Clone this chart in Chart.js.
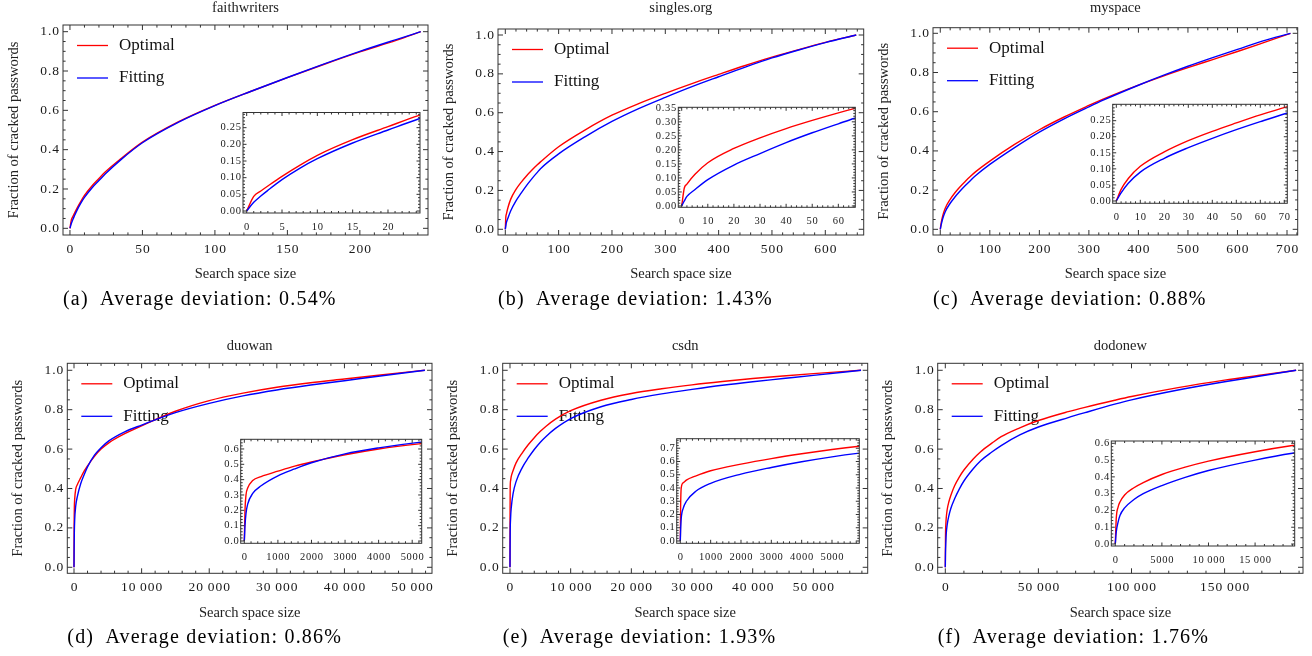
<!DOCTYPE html>
<html>
<head>
<meta charset="utf-8">
<title>Cracked password fraction vs search space size</title>
<script src="https://cdn.jsdelivr.net/npm/chart.js@4.4.1/dist/chart.umd.min.js"></script>
<style>
  html, body { margin: 0; padding: 0; background: #fff; }
  #fig { position: relative; width: 1312px; height: 656px; overflow: hidden; background: #fff; }
  #fig canvas { position: absolute; left: 0; top: 0; }
</style>
</head>
<body>
<div id="fig"></div>
<script>
// ---- data: search space size (x) and fraction of cracked passwords ----

// faithwriters
const aX       = [0, 1, 2, 3, 5, 7.5, 10, 15, 20, 24.3, 35, 50, 75, 100, 125, 150, 175, 200, 225, 242];
const aOptimal = [0, 0.044, 0.06, 0.075, 0.104, 0.137, 0.167, 0.214, 0.253, 0.286, 0.353, 0.438, 0.542, 0.625, 0.697, 0.766, 0.833, 0.897, 0.956, 1.0];
const aFitting = [0, 0.026, 0.045, 0.062, 0.094, 0.128, 0.157, 0.204, 0.243, 0.276, 0.348, 0.435, 0.54, 0.624, 0.697, 0.767, 0.835, 0.9, 0.96, 1.0];

// singles.org
const bX       = [0, 1, 2, 5, 10, 20, 30, 40, 50, 60, 66, 100, 150, 200, 250, 300, 350, 400, 450, 500, 550, 600, 658];
const bOptimal = [0, 0.064, 0.078, 0.112, 0.154, 0.205, 0.243, 0.276, 0.305, 0.332, 0.347, 0.425, 0.512, 0.587, 0.647, 0.7, 0.75, 0.797, 0.843, 0.886, 0.925, 0.962, 1.0];
const bFitting = [0, 0.018, 0.034, 0.058, 0.094, 0.146, 0.187, 0.226, 0.261, 0.293, 0.312, 0.388, 0.477, 0.555, 0.621, 0.679, 0.734, 0.785, 0.835, 0.882, 0.923, 0.961, 1.0];

// myspace
const cX       = [0, 2, 5, 10, 20, 30, 40, 50, 60, 71, 100, 150, 200, 250, 300, 330, 400, 450, 500, 550, 600, 650, 707];
const cOptimal = [0, 0.036, 0.07, 0.108, 0.153, 0.188, 0.217, 0.243, 0.268, 0.293, 0.348, 0.433, 0.508, 0.573, 0.632, 0.666, 0.736, 0.782, 0.825, 0.866, 0.907, 0.95, 1.0];
const cFitting = [0, 0.025, 0.055, 0.09, 0.133, 0.166, 0.195, 0.222, 0.247, 0.273, 0.331, 0.417, 0.496, 0.564, 0.625, 0.66, 0.735, 0.785, 0.832, 0.876, 0.918, 0.96, 1.0];

// duowan
const dX       = [0, 20, 50, 100, 250, 500, 1000, 1500, 2000, 3000, 4000, 5200, 7500, 10000, 15000, 20000, 25000, 30000, 35000, 40000, 45000, 51900];
const dOptimal = [0, 0.2, 0.3, 0.345, 0.395, 0.42, 0.455, 0.488, 0.515, 0.562, 0.6, 0.633, 0.678, 0.718, 0.792, 0.846, 0.884, 0.914, 0.937, 0.956, 0.975, 1.0];
const dFitting = [0, 0.1, 0.18, 0.24, 0.31, 0.36, 0.425, 0.47, 0.51, 0.568, 0.607, 0.643, 0.688, 0.722, 0.785, 0.832, 0.87, 0.9, 0.925, 0.947, 0.97, 1.0];

// csdn
const eX       = [0, 10, 30, 100, 200, 500, 1000, 2000, 3000, 4000, 5000, 5900, 7500, 10000, 15000, 20000, 25000, 30000, 35000, 40000, 45000, 50000, 57860];
const eOptimal = [0, 0.25, 0.4, 0.44, 0.46, 0.49, 0.53, 0.58, 0.622, 0.658, 0.69, 0.715, 0.752, 0.795, 0.848, 0.882, 0.906, 0.926, 0.943, 0.958, 0.971, 0.983, 1.0];
const eFitting = [0, 0.08, 0.17, 0.25, 0.3, 0.373, 0.435, 0.505, 0.555, 0.598, 0.635, 0.663, 0.705, 0.755, 0.815, 0.852, 0.88, 0.903, 0.924, 0.942, 0.958, 0.974, 1.0];

// dodonew
const fX       = [0, 100, 300, 500, 1000, 2000, 3000, 5000, 7500, 10000, 15000, 19000, 25000, 30000, 40000, 50000, 66000, 75000, 91000, 100000, 125000, 150000, 170000, 188400];
const fOptimal = [0, 0.15, 0.22, 0.25, 0.292, 0.335, 0.366, 0.414, 0.458, 0.494, 0.55, 0.587, 0.63, 0.663, 0.708, 0.745, 0.79, 0.812, 0.848, 0.867, 0.912, 0.95, 0.976, 1.0];
const fFitting = [0, 0.07, 0.13, 0.17, 0.215, 0.265, 0.3, 0.348, 0.397, 0.438, 0.5, 0.541, 0.585, 0.618, 0.672, 0.712, 0.76, 0.785, 0.828, 0.85, 0.9, 0.942, 0.972, 1.0];

// tick labels
const mainYTicks   = [0, 0.2, 0.4, 0.6, 0.8, 1.0];
const aMainXTicks  = [0, 50, 100, 150, 200];
const aInsetXTicks = [0, 5, 10, 15, 20];
const aInsetYTicks = [0, 0.05, 0.1, 0.15, 0.2, 0.25];
const bMainXTicks  = [0, 100, 200, 300, 400, 500, 600];
const bInsetXTicks = [0, 10, 20, 30, 40, 50, 60];
const bInsetYTicks = [0, 0.05, 0.1, 0.15, 0.2, 0.25, 0.3, 0.35];
const cMainXTicks  = [0, 100, 200, 300, 400, 500, 600, 700];
const cInsetXTicks = [0, 10, 20, 30, 40, 50, 60, 70];
const cInsetYTicks = [0, 0.05, 0.1, 0.15, 0.2, 0.25];
const dMainXTicks  = [0, 10000, 20000, 30000, 40000, 50000];
const dInsetXTicks = [0, 1000, 2000, 3000, 4000, 5000];
const dInsetYTicks = [0, 0.1, 0.2, 0.3, 0.4, 0.5, 0.6];
const eMainXTicks  = [0, 10000, 20000, 30000, 40000, 50000];
const eInsetXTicks = [0, 1000, 2000, 3000, 4000, 5000];
const eInsetYTicks = [0, 0.1, 0.2, 0.3, 0.4, 0.5, 0.6, 0.7];
const fMainXTicks  = [0, 50000, 100000, 150000];
const fInsetXTicks = [0, 5000, 10000, 15000];
const fInsetYTicks = [0, 0.1, 0.2, 0.3, 0.4, 0.5, 0.6];

const seriesNames  = ['Optimal', 'Fitting'];
const panelNames   = ['faithwriters', 'singles.org', 'myspace', 'duowan', 'csdn', 'dodonew'];
const panelLetters = ['a', 'b', 'c', 'd', 'e', 'f'];
const deviations   = ['0.54%', '1.43%', '0.88%', '0.86%', '1.93%', '1.76%'];

// ---- layout: frame boxes [left, top, right, bottom] in page px, axis ranges ----
const W = 1312, H = 656;
const SERIF = '"Liberation Serif", "Times New Roman", serif';

const panels = [
  { x: aX, opt: aOptimal, fit: aFitting, titleBase: 12.7,
    main:  { box: [63, 25, 428, 235], xr: [-4.8, 247], yr: [-0.034, 1.034], xt: aMainXTicks, xMinor: 10 },
    inset: { box: [243, 112.5, 420, 213], xr: [-0.52, 24.53], yr: [-0.006, 0.2955], xt: aInsetXTicks, yt: aInsetYTicks, xMinor: 1, yMinor: 0.01, yDec: 2 } },
  { x: bX, opt: bOptimal, fit: bFitting, titleBase: 12.7,
    main:  { box: [498, 29, 863.7, 235], xr: [-13.7, 672], yr: [-0.0294, 1.0309], xt: bMainXTicks, xMinor: 20 },
    inset: { box: [678.3, 107.3, 855.3, 207.3], xr: [-1.3, 66.5], yr: [-0.0047, 0.3518], xt: bInsetXTicks, yt: bInsetYTicks, xMinor: 2, yMinor: 0.01, yDec: 2 } },
  { x: cX, opt: cOptimal, fit: cFitting, titleBase: 12.7,
    main:  { box: [933, 27.7, 1297.7, 235], xr: [-14.7, 721.6], yr: [-0.029, 1.0286], xt: cMainXTicks, xMinor: 20 },
    inset: { box: [1112.7, 104.3, 1287.3, 203.3], xr: [-1.5, 71.25], yr: [-0.0072, 0.301], xt: cInsetXTicks, yt: cInsetYTicks, xMinor: 2, yMinor: 0.01, yDec: 2 } },
  { x: dX, opt: dOptimal, fit: dFitting, titleBase: 350.7,
    main:  { box: [67.3, 363.3, 432, 573.3], xr: [-991, 52950], yr: [-0.0305, 1.0355], xt: dMainXTicks, xMinor: 2000 },
    inset: { box: [240.7, 439.3, 421.7, 543.3], xr: [-108, 5283], yr: [-0.015, 0.663], xt: dInsetXTicks, yt: dInsetYTicks, xMinor: 200, yMinor: 0.02, yDec: 1 } },
  { x: eX, opt: eOptimal, fit: eFitting, titleBase: 350.7,
    main:  { box: [502.7, 363.3, 867.7, 573.3], xr: [-1203, 58956], yr: [-0.0305, 1.0355], xt: eMainXTicks, xMinor: 2000 },
    inset: { box: [676.7, 438.7, 859.3, 543.3], xr: [-119, 5900], yr: [-0.0174, 0.772], xt: eInsetXTicks, yt: eInsetYTicks, xMinor: 200, yMinor: 0.02, yDec: 1 } },
  { x: fX, opt: fOptimal, fit: fFitting, titleBase: 350.7,
    main:  { box: [937.7, 363.3, 1303, 573.3], xr: [-4082, 192100], yr: [-0.0305, 1.0355], xt: fMainXTicks, xMinor: 10000 },
    inset: { box: [1111.3, 441, 1294.7, 546], xr: [-428.6, 19250], yr: [-0.0119, 0.6137], xt: fInsetXTicks, yt: fInsetYTicks, xMinor: 1000, yMinor: 0.02, yDec: 1 } }
];

// 12345 -> "12 345" (thin space), four digits stay together
function fmtNum(v, dec) {
  if (dec) return v.toFixed(dec);
  const s = String(Math.round(v));
  return s.length > 4 ? s.replace(/\B(?=(\d{3})+(?!\d))/g, '\u2009') : s;
}

function seriesData(xs, ys) {
  return xs.map((x, i) => ({ x: x, y: ys[i] }));
}

function buildDatasets(p) {
  const common = { borderWidth: 1.4, pointRadius: 0, fill: false, cubicInterpolationMode: 'monotone' };
  return [
    Object.assign({ label: seriesNames[0], data: seriesData(p.x, p.opt), borderColor: '#ff0000', order: 1 }, common),
    Object.assign({ label: seriesNames[1], data: seriesData(p.x, p.fit), borderColor: '#0000ff', order: 0 }, common)
  ];
}

function minorValues(scale, step) {
  const out = [];
  for (let k = Math.ceil(scale.min / step - 1e-9); k * step <= scale.max + 1e-9; k++) out.push(k * step);
  return out;
}

// frame with inward ticks on all four sides, tick labels, in-plot legend, caption
function makeFrame(cfg) {
  return {
    id: 'frame',
    beforeDatasetsDraw(chart) {
      const { ctx, chartArea: a } = chart;
      ctx.save();
      if (cfg.fill) {
        ctx.fillStyle = '#fff';
        ctx.fillRect(a.left, a.top, a.right - a.left, a.bottom - a.top);
      }
      if (cfg.legend) {
        ctx.font = '17px ' + SERIF;
        ctx.textAlign = 'left';
        ctx.textBaseline = 'middle';
        ctx.fillStyle = '#111';
        chart.data.datasets.forEach((ds, i) => {
          const y = a.top + 20.5 + i * 32.5;
          ctx.strokeStyle = ds.borderColor;
          ctx.lineWidth = 1.3;
          ctx.beginPath();
          ctx.moveTo(a.left + 14, y);
          ctx.lineTo(a.left + 45, y);
          ctx.stroke();
          ctx.fillText(ds.label, a.left + 56, y);
        });
      }
      ctx.restore();
    },
    afterDatasetsDraw(chart) {
      const { ctx, chartArea: a } = chart;
      const xs = chart.scales.x, ys = chart.scales.y;
      ctx.save();
      ctx.strokeStyle = '#333';
      ctx.lineWidth = 1;
      ctx.strokeRect(a.left, a.top, a.right - a.left, a.bottom - a.top);

      ctx.beginPath();
      const xMaj = xs.ticks.map(t => t.value);
      minorValues(xs, cfg.xMinor).forEach(v => {
        const len = xMaj.some(m => Math.abs(m - v) < cfg.xMinor * 1e-3) ? cfg.majorLen : cfg.minorLen;
        const px = xs.getPixelForValue(v);
        ctx.moveTo(px, a.bottom); ctx.lineTo(px, a.bottom - len);
        ctx.moveTo(px, a.top);    ctx.lineTo(px, a.top + len);
      });
      const yMaj = ys.ticks.map(t => t.value);
      minorValues(ys, cfg.yMinor).forEach(v => {
        const len = yMaj.some(m => Math.abs(m - v) < cfg.yMinor * 1e-3) ? cfg.majorLen : cfg.minorLen;
        const py = ys.getPixelForValue(v);
        ctx.moveTo(a.left, py);  ctx.lineTo(a.left + len, py);
        ctx.moveTo(a.right, py); ctx.lineTo(a.right - len, py);
      });
      ctx.stroke();

      ctx.fillStyle = '#1a1a1a';
      ctx.font = cfg.labelSize + 'px ' + SERIF;
      ctx.letterSpacing = cfg.labelSpacing + 'px';
      ctx.textAlign = 'center';
      ctx.textBaseline = 'alphabetic';
      xs.ticks.forEach(t => {
        ctx.fillText(fmtNum(t.value, 0), xs.getPixelForValue(t.value) + cfg.labelSpacing / 2, a.bottom + cfg.xLabelDrop);
      });
      ctx.textAlign = 'right';
      ctx.textBaseline = 'middle';
      ys.ticks.forEach(t => {
        ctx.fillText(fmtNum(t.value, cfg.yDec), a.left - cfg.yLabelGap + cfg.labelSpacing, ys.getPixelForValue(t.value));
      });
      ctx.restore();
    },
    afterDraw(chart) {
      if (!cfg.caption) return;
      const { ctx, chartArea: a } = chart;
      ctx.save();
      ctx.font = '20px ' + SERIF;
      ctx.letterSpacing = '1.2px';
      ctx.fillStyle = '#000';
      ctx.textAlign = 'left';
      ctx.textBaseline = 'alphabetic';
      ctx.fillText(cfg.caption, a.left, a.bottom + 70);
      ctx.restore();
    }
  };
}

function linearAxis(range, ticks, extra) {
  return Object.assign({
    type: 'linear',
    min: range[0],
    max: range[1],
    afterBuildTicks: s => { s.ticks = ticks.map(v => ({ value: v })); },
    ticks: { display: false },
    grid: { display: false },
    border: { display: false }
  }, extra);
}

function addCanvas() {
  const c = document.createElement('canvas');
  c.width = W; c.height = H;
  c.style.width = W + 'px'; c.style.height = H + 'px';
  document.getElementById('fig').appendChild(c);
  return c;
}

const axisFont = { family: SERIF, size: 14.5, lineHeight: 1 };

function drawMain(p, i) {
  const m = p.main, [l, t, r, b] = m.box;
  new Chart(addCanvas(), {
    type: 'line',
    data: { datasets: buildDatasets(p) },
    options: {
      responsive: false,
      animation: false,
      devicePixelRatio: 1,
      events: [],
      layout: { padding: { left: l - 60, right: W - r, top: p.titleBase - 12.15, bottom: H - b - 50 } },
      scales: {
        x: linearAxis(m.xr, m.xt, {
          afterFit: s => { s.height = 50; },
          title: { display: true, text: 'Search space size', color: '#222', font: axisFont, padding: { top: 0, bottom: 3.35 } }
        }),
        y: linearAxis(m.yr, mainYTicks, {
          afterFit: s => { s.width = 60; },
          title: { display: true, text: 'Fraction of cracked passwords', color: '#222', font: axisFont, padding: { top: 3.45, bottom: 0 } }
        })
      },
      plugins: {
        legend: { display: false },
        tooltip: { enabled: false },
        title: {
          display: true,
          text: panelNames[i],
          fullSize: false,
          color: '#222',
          font: { family: SERIF, size: 14.5, weight: 'normal', lineHeight: 1 },
          padding: { top: 0, bottom: t - p.titleBase - 2.35 }
        }
      }
    },
    plugins: [makeFrame({
      legend: true, fill: false,
      xMinor: m.xMinor, yMinor: 0.05, yDec: 1,
      majorLen: 5, minorLen: 2.6,
      labelSize: 13.5, labelSpacing: 1.0, xLabelDrop: 17.5, yLabelGap: 4,
      caption: '(' + panelLetters[i] + ')\u2002Average deviation: ' + deviations[i]
    })]
  });
}

function drawInset(p) {
  const n = p.inset, [l, t, r, b] = n.box;
  new Chart(addCanvas(), {
    type: 'line',
    data: { datasets: buildDatasets(p) },
    options: {
      responsive: false,
      animation: false,
      devicePixelRatio: 1,
      events: [],
      layout: { padding: { left: l, right: W - r, top: t, bottom: H - b } },
      scales: {
        x: linearAxis(n.xr, n.xt, { display: false }),
        y: linearAxis(n.yr, n.yt, { display: false })
      },
      plugins: { legend: { display: false }, tooltip: { enabled: false } }
    },
    plugins: [makeFrame({
      legend: false, fill: true,
      xMinor: n.xMinor, yMinor: n.yMinor, yDec: n.yDec,
      majorLen: 3.5, minorLen: 2,
      labelSize: 10.5, labelSpacing: 0.7, xLabelDrop: 16.5, yLabelGap: 2,
      caption: null
    })]
  });
}

panels.forEach((p, i) => { drawMain(p, i); drawInset(p); });
</script>
</body>
</html>
